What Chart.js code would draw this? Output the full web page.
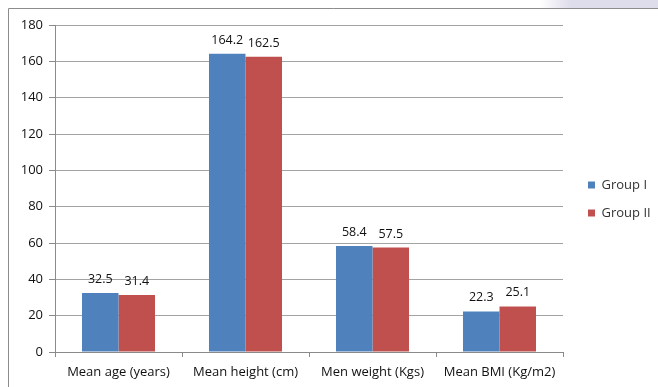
<!DOCTYPE html>
<html>
<head>
<meta charset="utf-8">
<script src="https://cdn.jsdelivr.net/npm/chart.js@4.4.1/dist/chart.umd.min.js"></script>
<style>
  html, body { margin: 0; padding: 0; background: #ffffff; }
  #wrap { width: 658px; height: 387px; position: relative; }
</style>
</head>
<body>
<div id="wrap"><canvas id="c" width="658" height="387"></canvas></div>
<script>
// Anthropometric means per study group
const categories = ['Mean age (years)', 'Mean height (cm)', 'Men weight (Kgs)', 'Mean BMI (Kg/m2)'];
const groupI = [32.5, 164.2, 58.4, 22.3];
const groupII = [31.4, 162.5, 57.5, 25.1];
const seriesNames = ['Group I', 'Group II'];
const yTicks = [0, 20, 40, 60, 80, 100, 120, 140, 160, 180];

const FONT = '"Open Sans", "Liberation Sans", sans-serif';
const GRID = '#a3a3a3';
const AXIS = '#8a8a8a';

// Frame lines and the tinted strip in the top-right corner
const framePlugin = {
  id: 'frame',
  beforeDraw(chart) {
    const ctx = chart.ctx;
    ctx.save();
    ctx.fillStyle = '#ffffff';
    ctx.fillRect(0, 0, chart.width, chart.height);
    const g = ctx.createLinearGradient(540, 0, 570, 0);
    g.addColorStop(0, 'rgba(222,221,235,0)');
    g.addColorStop(1, 'rgba(222,221,235,1)');
    ctx.fillStyle = g;
    ctx.fillRect(540, 0, chart.width - 540, 8);
    ctx.strokeStyle = '#8c8c8c';
    ctx.lineWidth = 1;
    ctx.beginPath();
    ctx.moveTo(8.5, chart.height);
    ctx.lineTo(8.5, 8.5);
    ctx.lineTo(chart.width, 8.5);
    ctx.stroke();
    ctx.restore();
  }
};

// Value labels above each bar
const valueLabels = {
  id: 'valueLabels',
  afterDatasetsDraw(chart) {
    const ctx = chart.ctx;
    ctx.save();
    ctx.font = '12.5px ' + FONT;
    ctx.fillStyle = '#111111';
    ctx.textAlign = 'center';
    ctx.textBaseline = 'alphabetic';
    chart.data.datasets.forEach((ds, di) => {
      const meta = chart.getDatasetMeta(di);
      meta.data.forEach((bar, i) => {
        ctx.fillText(ds.data[i].toFixed(1), bar.x, bar.y - 10);
      });
    });
    ctx.restore();
  }
};

new Chart(document.getElementById('c'), {
  type: 'bar',
  data: {
    labels: categories,
    datasets: [
      { label: seriesNames[0], data: groupI, backgroundColor: '#4f81bd', borderWidth: 0 },
      { label: seriesNames[1], data: groupII, backgroundColor: '#c0504d', borderWidth: 0 }
    ]
  },
  options: {
    responsive: false,
    animation: false,
    devicePixelRatio: 1,
    layout: { padding: { left: 0, top: 11, right: 0, bottom: 0 } },
    datasets: { bar: { categoryPercentage: 0.575, barPercentage: 1.0 } },
    plugins: {
      legend: {
        position: 'right',
        maxWidth: 85,
        labels: {
          boxWidth: 7,
          boxHeight: 7,
          padding: 15,
          color: '#333333',
          font: { family: FONT, size: 13 }
        }
      },
      tooltip: { enabled: false }
    },
    scales: {
      x: {
        grid: { display: true, drawOnChartArea: false, offset: true, color: AXIS, tickLength: 5 },
        border: { display: true, color: AXIS },
        ticks: { color: '#111111', padding: 7, font: { family: FONT, size: 13 }, maxRotation: 0 },
        afterFit(s) { s.height = 35; }
      },
      gapTop: {
        type: 'category',
        position: 'top',
        display: true,
        grid: { display: false },
        border: { display: false },
        ticks: { display: false },
        afterFit(s) { s.height = 14; }
      },
      y: {
        min: 0,
        max: 180,
        afterBuildTicks(s) { s.ticks = yTicks.map(v => ({ value: v })); },
        grid: { color: GRID, tickLength: 6, tickColor: AXIS },
        border: { display: true, color: AXIS },
        ticks: { color: '#111111', padding: 6, font: { family: FONT, size: 13 } },
        afterFit(s) { s.width = 55; }
      },
      gapRight: {
        type: 'linear',
        position: 'right',
        display: true,
        grid: { display: false },
        border: { display: false },
        ticks: { display: false },
        afterFit(s) { s.width = 10; }
      }
    }
  },
  plugins: [framePlugin, valueLabels]
});
</script>
</body>
</html>
